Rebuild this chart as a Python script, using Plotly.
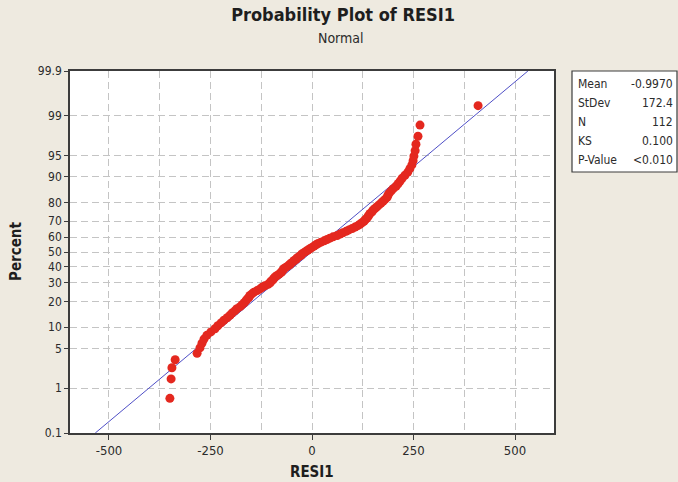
import plotly.graph_objects as go
from statistics import NormalDist

# ---------------- data ----------------
resi1 = [
    -350, -347, -345, -337, -283, -276, -271, -266, -259, -249,
    -239, -232, -224, -217, -209, -202, -197, -190, -185, -177,
    -172, -167, -163, -160, -155, -153, -148, -143, -135, -128,
    -123, -116, -108, -103, -101, -96, -94, -91, -86, -81,
    -76, -74, -71, -69, -64, -59, -54, -52, -47, -44,
    -39, -37, -32, -27, -25, -20, -15, -10, -5, 0,
    5, 10, 15, 22, 30, 37, 44, 52, 62, 69,
    76, 84, 91, 99, 106, 113, 118, 123, 128, 131,
    135, 138, 140, 143, 148, 150, 155, 160, 165, 170,
    175, 180, 185, 187, 190, 195, 200, 207, 212, 217,
    222, 229, 236, 241, 246, 249, 251, 254, 256, 261,
    266, 409,
]
fit_mean = -0.997
fit_stdev = 172.4
percent_ticks = [0.1, 1, 5, 10, 20, 30, 40, 50, 60, 70, 80, 90, 95, 99, 99.9]
percent_labels = ["0.1", "1", "5", "10", "20", "30", "40", "50", "60", "70", "80", "90", "95", "99", "99.9"]
x_ticks = [-500, -250, 0, 250, 500]
stat_labels = ["Mean", "StDev", "N", "KS", "P-Value"]
stat_values = ["-0.9970", "172.4", "112", "0.100", "<0.010"]

# ---------------- build ----------------
nd = NormalDist()
n = len(resi1)
xs = sorted(resi1)
zs = [nd.inv_cdf((i - 0.3) / (n + 0.4)) for i in range(1, n + 1)]
zlim = nd.inv_cdf(0.999)
line_z = [-zlim, zlim]
line_x = [fit_mean + fit_stdev * z for z in line_z]

FONT = "DejaVu Sans Condensed, DejaVu Sans, sans-serif"
BG = "#EEEAE0"
GRID = "#C4C4C4"
DASH = "7px,4px"
TXT = "#2B2B2B"

fig = go.Figure()
fig.add_trace(go.Scatter(x=line_x, y=line_z, mode="lines",
                         line=dict(color="#4F4FC6", width=1), hoverinfo="skip"))
fig.add_trace(go.Scatter(x=xs, y=zs, mode="markers",
                         marker=dict(color="#E4281F", size=9, line=dict(width=0))))

fig.update_layout(
    width=678, height=482,
    margin=dict(l=70, r=124, t=71, b=49),
    paper_bgcolor=BG, plot_bgcolor="white",
    showlegend=False,
    font=dict(family=FONT, size=12, color=TXT),
    title=dict(text="<b>Probability Plot of RESI1</b>", x=0.506, xref="container",
               xanchor="center", y=1 - 15 / 482, yref="container", yanchor="middle",
               font=dict(family=FONT, size=18, color="#1E1E1E")),
)

fig.update_xaxes(
    range=[-596, 596], tickvals=x_ticks, ticktext=[str(v) for v in x_ticks],
    showgrid=True, gridcolor=GRID, griddash=DASH, gridwidth=1,
    minor=dict(tickvals=[-375, -125, 125, 375], showgrid=True, gridcolor=GRID,
               griddash=DASH, gridwidth=1),
    showline=True, linecolor="#3C3C3C", linewidth=1.5, mirror=True,
    ticks="outside", ticklen=5, tickcolor="#3C3C3C",
    tickfont=dict(size=13, color=TXT), zeroline=False,
)
fig.update_yaxes(
    range=[-zlim, zlim],
    tickvals=[nd.inv_cdf(p / 100) for p in percent_ticks], ticktext=percent_labels,
    showgrid=True, gridcolor=GRID, griddash=DASH, gridwidth=1,
    showline=True, linecolor="#3C3C3C", linewidth=1.5, mirror=True,
    ticks="outside", ticklen=4, tickcolor="#3C3C3C",
    tickfont=dict(size=12, color=TXT), zeroline=False,
)

W, H = 484, 362  # plot area size in px
def px_x(px):
    return (px - 70) / W
def px_y(py):
    return (433 - py) / H

ann = []
ann.append(dict(text="Normal", x=px_x(341), y=px_y(38), xref="paper", yref="paper",
                showarrow=False, font=dict(size=14, color=TXT), xanchor="center", yanchor="middle"))
ann.append(dict(text="<b>Percent</b>", x=px_x(16), y=px_y(252), xref="paper", yref="paper",
                showarrow=False, textangle=-90, font=dict(size=15, color="#1E1E1E"),
                xanchor="center", yanchor="middle"))
ann.append(dict(text="<b>RESI1</b>", x=px_x(312), y=px_y(472), xref="paper", yref="paper",
                showarrow=False, font=dict(size=15, color="#1E1E1E"),
                xanchor="center", yanchor="middle"))
row_y = [84, 103, 122, 141, 160]
for lab, val, ry in zip(stat_labels, stat_values, row_y):
    ann.append(dict(text=lab, x=px_x(576), y=px_y(ry), xref="paper", yref="paper",
                    showarrow=False, font=dict(size=12, color=TXT), xanchor="left", yanchor="middle"))
    ann.append(dict(text=val, x=px_x(675), y=px_y(ry), xref="paper", yref="paper",
                    showarrow=False, font=dict(size=12, color=TXT), xanchor="right", yanchor="middle"))
fig.update_layout(annotations=ann)
fig.add_shape(type="rect", xref="paper", yref="paper",
              x0=px_x(572), x1=px_x(677), y0=px_y(172), y1=px_y(71),
              line=dict(color="#3C3C3C", width=1.2), fillcolor="white", layer="above")

fig.write_html("out.html", config={"displayModeBar": False},
               post_script="document.body.style.margin='0';document.body.style.overflow='hidden';")
